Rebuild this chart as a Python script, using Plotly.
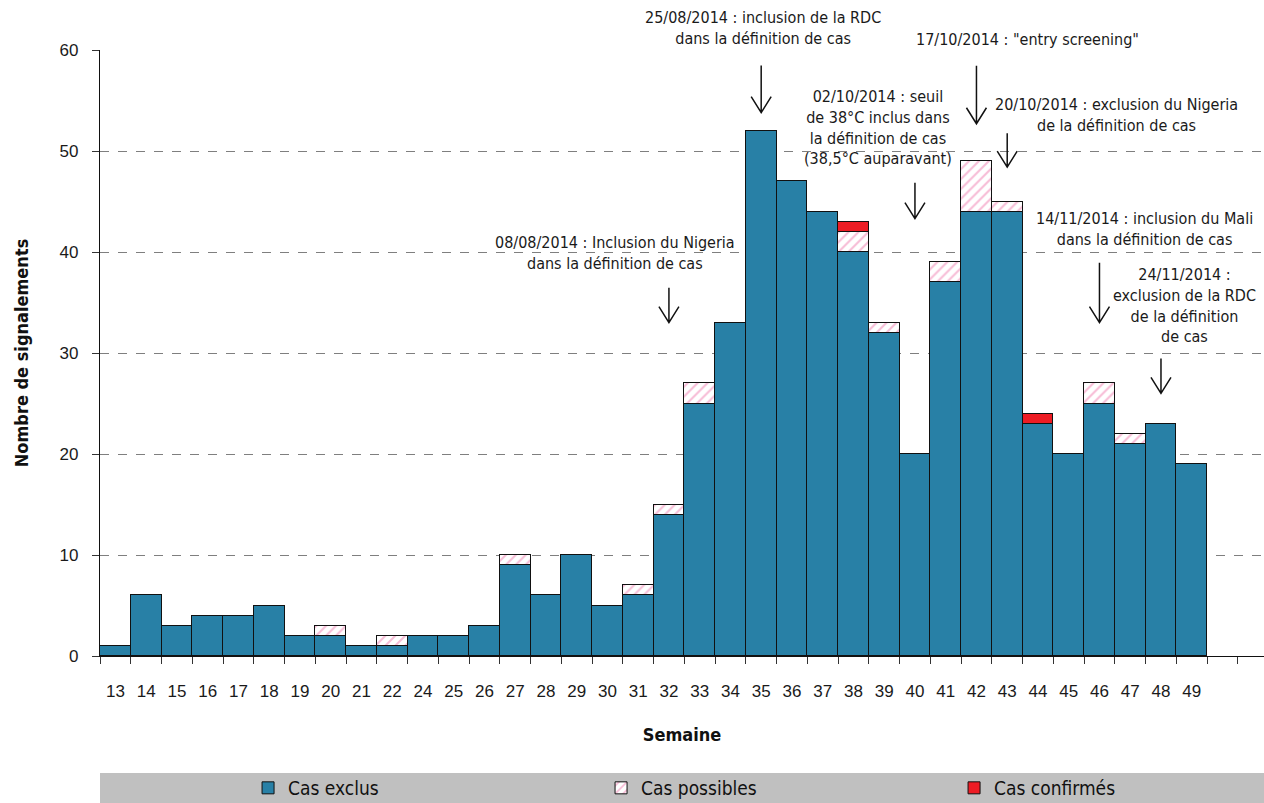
import plotly.graph_objects as go

weeks = ["13", "14", "15", "16", "17", "18", "19", "20", "21", "22", "24", "25",
         "26", "27", "28", "29", "30", "31", "32", "33", "34", "35", "36", "37",
         "38", "39", "40", "41", "42", "43", "44", "45", "46", "47", "48", "49"]
empty_slots = ["50", "51"]

cas_exclus = [1, 6, 3, 4, 4, 5, 2, 2, 1, 1, 2, 2,
              3, 9, 6, 10, 5, 6, 14, 25, 33, 52, 47, 44,
              40, 32, 20, 37, 44, 44, 23, 20, 25, 21, 23, 19]
cas_possibles = [0, 0, 0, 0, 0, 0, 0, 1, 0, 1, 0, 0,
                 0, 1, 0, 0, 0, 1, 1, 2, 0, 0, 0, 0,
                 2, 1, 0, 2, 5, 1, 0, 0, 2, 1, 0, 0]
cas_confirmes = [0, 0, 0, 0, 0, 0, 0, 0, 0, 0, 0, 0,
                 0, 0, 0, 0, 0, 0, 0, 0, 0, 0, 0, 0,
                 1, 0, 0, 0, 0, 0, 1, 0, 0, 0, 0, 0]

events = [
    ("32", "08/08/2014 : Inclusion du Nigeria<br>dans la définition de cas"),
    ("35", "25/08/2014 : inclusion de la RDC<br>dans la définition de cas"),
    ("40", "02/10/2014 : seuil<br>de 38°C inclus dans<br>la définition de cas<br>(38,5°C auparavant)"),
    ("42", "17/10/2014 : \"entry screening\""),
    ("43", "20/10/2014 : exclusion du Nigeria<br>de la définition de cas"),
    ("46", "14/11/2014 : inclusion du Mali<br>dans la définition de cas"),
    ("48", "24/11/2014 :<br>exclusion de la RDC<br>de la définition<br>de cas"),
]
# layout helpers (positions only)
arrow_tip = [33.0, 53.8, 43.3, 52.7, 48.4, 33.0, 26.0]   # y value of arrow tip
arrow_len = [35, 47, 36, 58, 34, 60, 35]                 # px
text_x = [16.25, 21.06, 24.8, 29.65, 32.54, 33.48, 34.78]  # category index
text_y = [0.665, 1.037, 0.872, 1.017, 0.892, 0.705, 0.579]  # paper fraction

COND = "DejaVu Sans Condensed, Liberation Sans Narrow, Arial Narrow, Liberation Sans, Arial"
REG = "Liberation Sans, Arial, Helvetica, sans-serif"
BLUE = "#2880A6"
RED = "#ED1C24"
PINK = "#F07AAE"


def nz(vals):
    return [v if v else None for v in vals]


fig = go.Figure()
fig.add_trace(go.Bar(x=weeks, y=cas_exclus, name="Cas exclus",
                     marker=dict(color=BLUE, line=dict(color="#111111", width=1))))
fig.add_trace(go.Bar(x=weeks, y=nz(cas_possibles), name="Cas possibles",
                     marker=dict(color="white", line=dict(color="#111111", width=1),
                                 pattern=dict(shape="/", fgcolor=PINK, bgcolor="white",
                                              size=7, solidity=0.3))))
fig.add_trace(go.Bar(x=weeks, y=nz(cas_confirmes), name="Cas confirmés",
                     marker=dict(color=RED, line=dict(color="#111111", width=1))))

annotations = []
shapes = [dict(type="rect", xref="paper", yref="paper", x0=0, x1=1.01,
               y0=-0.2426, y1=-0.193, fillcolor="#C0C0C0", line=dict(width=0),
               layer="below")]
for (wk, txt), tip, ln, tx, ty in zip(events, arrow_tip, arrow_len, text_x, text_y):
    # open "V" arrow drawn in pixels, anchored at the tip
    shapes.append(dict(type="path", xref="x", yref="y",
                       xsizemode="pixel", ysizemode="pixel",
                       xanchor=weeks.index(wk), yanchor=tip,
                       path=f"M0,{ln} L0,0 M-10,16 L0,0 L10,16",
                       line=dict(color="#111111", width=1.5)))
    annotations.append(dict(x=tx, y=ty, xref="x", yref="paper", text=txt, showarrow=False,
                            xanchor="center", yanchor="middle", align="center",
                            font=dict(family=COND, size=16, color="#1a1a1a")))

fig.update_layout(
    width=1264, height=803,
    margin=dict(l=100, r=0, t=50, b=147, autoexpand=False),
    paper_bgcolor="white", plot_bgcolor="white",
    barmode="stack", bargap=0,
    font=dict(family=REG, size=16, color="#1a1a1a"),
    annotations=annotations,
    shapes=shapes,
    legend=dict(orientation="h", x=0.1272, xanchor="left", y=-0.2178, yanchor="middle",
                bgcolor="rgba(0,0,0,0)", entrywidth=308, entrywidthmode="pixels",
                font=dict(family=COND, size=19, color="#111111"), traceorder="normal"),
    showlegend=True,
)
fig.update_xaxes(
    type="category", categoryorder="array", categoryarray=weeks + empty_slots,
    tickvals=weeks + empty_slots, ticktext=weeks + ["", ""],
    range=[-0.5, 37.35], tickson="boundaries", ticks="outside", ticklen=7,
    tickcolor="#333333", showline=True, linecolor="#111111", linewidth=1.2,
    showgrid=False, ticklabelstandoff=19,
    tickfont=dict(family=REG, size=17, color="#1a1a1a"),
    title=dict(text="<b>Semaine</b>", font=dict(family=COND, size=18, color="#111111"),
               standoff=28),
)
fig.update_yaxes(
    range=[0, 60], dtick=10, ticks="outside", ticklen=7, tickcolor="#333333",
    showline=True, linecolor="#111111", linewidth=1.2,
    showgrid=True, gridcolor="#7f7f7f", griddash="dash", gridwidth=1,
    zeroline=False, ticklabelstandoff=10,
    tickfont=dict(family=REG, size=17, color="#1a1a1a"),
    title=dict(text="<b>Nombre de signalements</b>",
               font=dict(family=COND, size=18, color="#111111"), standoff=26),
)

fig.write_html("out.html", config={"displayModeBar": False},
               post_script="document.body.style.margin='0';")
